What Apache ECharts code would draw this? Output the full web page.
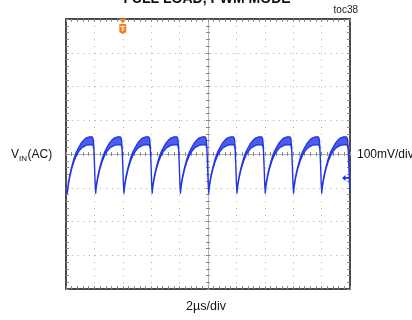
<!DOCTYPE html>
<html>
<head>
<meta charset="utf-8">
<script src="https://cdn.jsdelivr.net/npm/echarts@6/dist/echarts.min.js"></script>
<style>
  html, body { margin: 0; padding: 0; background: #fff; }
  #chart { width: 412px; height: 320px; }
</style>
</head>
<body>
<div id="chart"></div>
<script>
// Scope capture of the input ripple, AC coupled: 2 µs/div horizontally, 100 mV/div vertically.
// The trace is stored as its lower and upper envelope (the plateau of each tooth is fuzzy).

const timeRangeUs = [0, 20];
const voltRangeMv = [-400, 400];
const triggerTimeUs = 4;
const triggerLevelMv = -71;

const timeUs = [
  0.00,
  0.10, 0.15, 0.24, 0.38, 0.55, 0.72, 0.90, 1.08, 1.26, 1.44, 1.65, 1.84, 1.91, 1.96, 2.01, 2.05,
  2.09, 2.14, 2.23, 2.37, 2.54, 2.71, 2.89, 3.07, 3.25, 3.43, 3.64, 3.83, 3.90, 3.95, 4.00, 4.04,
  4.08, 4.13, 4.22, 4.36, 4.53, 4.70, 4.88, 5.06, 5.24, 5.42, 5.63, 5.82, 5.89, 5.94, 5.99, 6.03,
  6.07, 6.12, 6.21, 6.35, 6.52, 6.69, 6.87, 7.05, 7.23, 7.41, 7.62, 7.81, 7.88, 7.93, 7.98, 8.02,
  8.06, 8.11, 8.20, 8.34, 8.51, 8.68, 8.86, 9.04, 9.22, 9.40, 9.61, 9.80, 9.87, 9.92, 9.97, 10.01,
  10.05, 10.10, 10.19, 10.33, 10.50, 10.67, 10.85, 11.03, 11.21, 11.39, 11.60, 11.79, 11.86, 11.91, 11.96, 12.00,
  12.04, 12.09, 12.18, 12.32, 12.49, 12.66, 12.84, 13.02, 13.20, 13.38, 13.59, 13.78, 13.85, 13.90, 13.95, 13.99,
  14.03, 14.08, 14.17, 14.31, 14.48, 14.65, 14.83, 15.01, 15.19, 15.37, 15.58, 15.77, 15.84, 15.89, 15.94, 15.98,
  16.02, 16.07, 16.16, 16.30, 16.47, 16.64, 16.82, 17.00, 17.18, 17.36, 17.57, 17.76, 17.83, 17.88, 17.93, 17.97,
  18.01, 18.06, 18.15, 18.29, 18.46, 18.63, 18.81, 18.99, 19.17, 19.35, 19.56, 19.75, 19.82, 19.87, 19.92, 19.96,
  20.00
];

const lowMv = [
  -114,
  -116, -97, -74, -47, -23, -5, 8, 17, 22, 26, 27, 27, 25, 13, -38, -88,
  -116, -97, -74, -47, -23, -5, 8, 17, 22, 26, 27, 27, 25, 13, -38, -88,
  -116, -97, -74, -47, -23, -5, 8, 17, 22, 26, 27, 27, 25, 13, -38, -88,
  -116, -97, -74, -47, -23, -5, 8, 17, 22, 26, 27, 27, 25, 13, -38, -88,
  -116, -97, -74, -47, -23, -5, 8, 17, 22, 26, 27, 27, 25, 13, -38, -88,
  -116, -97, -74, -47, -23, -5, 8, 17, 22, 26, 27, 27, 25, 13, -38, -88,
  -116, -97, -74, -47, -23, -5, 8, 17, 22, 26, 27, 27, 25, 13, -38, -88,
  -116, -97, -74, -47, -23, -5, 8, 17, 22, 26, 27, 27, 25, 13, -38, -88,
  -116, -97, -74, -47, -23, -5, 8, 17, 22, 26, 27, 27, 25, 13, -38, -88,
  -116, -97, -74, -47, -23, -5, 8, 17, 22, 26, 27, 27, 25, 13, -38, -88,
  -116
];

const highMv = [
  -108,
  -110, -91, -68, -41, -15, 5, 20, 33, 42, 48, 51, 51, 45, 23, -32, -82,
  -110, -91, -68, -41, -15, 5, 20, 33, 42, 48, 51, 51, 45, 23, -32, -82,
  -110, -91, -68, -41, -15, 5, 20, 33, 42, 48, 51, 51, 45, 23, -32, -82,
  -110, -91, -68, -41, -15, 5, 20, 33, 42, 48, 51, 51, 45, 23, -32, -82,
  -110, -91, -68, -41, -15, 5, 20, 33, 42, 48, 51, 51, 45, 23, -32, -82,
  -110, -91, -68, -41, -15, 5, 20, 33, 42, 48, 51, 51, 45, 23, -32, -82,
  -110, -91, -68, -41, -15, 5, 20, 33, 42, 48, 51, 51, 45, 23, -32, -82,
  -110, -91, -68, -41, -15, 5, 20, 33, 42, 48, 51, 51, 45, 23, -32, -82,
  -110, -91, -68, -41, -15, 5, 20, 33, 42, 48, 51, 51, 45, 23, -32, -82,
  -110, -91, -68, -41, -15, 5, 20, 33, 42, 48, 51, 51, 45, 23, -32, -82,
  -110
];

const FONT = '"Liberation Sans", Arial, Helvetica, sans-serif';
const TRACE = '#1f35e6';
const TRIG = '#f5821f';
const FRAME = '#4a4a4a';
const DOT = '#a8a8a8';
const TICK = '#8a8a8a';

const chart = echarts.init(document.getElementById('chart'), null, { renderer: 'canvas' });

// helpers for the scope graticule axes
function xAxisCfg(extra) {
  return Object.assign({
    type: 'value', min: timeRangeUs[0], max: timeRangeUs[1], interval: 2,
    axisLabel: { show: false },
    splitLine: { show: false },
    axisTick: { show: true, inside: true, length: 3, lineStyle: { color: TICK, width: 1 } },
    minorTick: { show: true, splitNumber: 5, length: 3, lineStyle: { color: TICK, width: 1 } },
    axisLine: { show: true, onZero: false, lineStyle: { color: FRAME, width: 2 } }
  }, extra);
}
function yAxisCfg(extra) {
  return Object.assign({
    type: 'value', min: voltRangeMv[0], max: voltRangeMv[1], interval: 100,
    axisLabel: { show: false },
    splitLine: { show: false },
    axisTick: { show: true, inside: true, length: 3, lineStyle: { color: TICK, width: 1 } },
    minorTick: { show: true, splitNumber: 5, length: 3, lineStyle: { color: TICK, width: 1 } },
    axisLine: { show: true, onZero: false, lineStyle: { color: FRAME, width: 2 } }
  }, extra);
}
const centerLine = { show: true, onZero: false, lineStyle: { color: '#b4b4b4', width: 1 } };
const centerTick = (inside) => ({ show: true, inside: inside, length: 2, lineStyle: { color: TICK, width: 1 } });
const centerMinor = { show: true, splitNumber: 5, length: 2, lineStyle: { color: TICK, width: 1 } };

// the trace: lower envelope forward, upper envelope back, as one filled outline
function renderTrace(params, api) {
  if (params.dataIndex !== 0) return null;
  const n = timeUs.length;
  const pts = [];
  for (let i = 0; i < n; i++) pts.push(api.coord([timeUs[i], lowMv[i]]));
  for (let i = n - 1; i >= 0; i--) pts.push(api.coord([timeUs[i], highMv[i]]));
  return {
    type: 'polygon',
    shape: { points: pts },
    style: { fill: 'rgba(31,53,230,0.8)', stroke: TRACE, lineWidth: 1.3, lineJoin: 'round' }
  };
}

const option = {
  animation: false,
  backgroundColor: '#fff',
  grid: { left: 66, top: 19, width: 284, height: 270, outerBoundsMode: 'none', containLabel: false },
  xAxis: [
    xAxisCfg({ position: 'bottom',
      splitLine: { show: true, lineStyle: { color: DOT, width: 1, type: [1, 5.75] } } }),
    xAxisCfg({ position: 'top' }),
    xAxisCfg({ position: 'bottom', offset: -135, axisLine: centerLine,
      axisTick: centerTick(true), minorTick: centerMinor }),
    xAxisCfg({ position: 'bottom', offset: -135, axisLine: { show: false },
      axisTick: centerTick(false), minorTick: centerMinor })
  ],
  yAxis: [
    yAxisCfg({ position: 'left',
      splitLine: { show: true, lineStyle: { color: DOT, width: 1, type: [1, 4.75] } } }),
    yAxisCfg({ position: 'right' }),
    yAxisCfg({ position: 'left', offset: -142, axisLine: centerLine,
      axisTick: centerTick(true), minorTick: centerMinor }),
    yAxisCfg({ position: 'left', offset: -142, axisLine: { show: false },
      axisTick: centerTick(false), minorTick: centerMinor })
  ],
  series: [
    {
      name: 'trace',
      type: 'custom',
      xAxisIndex: 0, yAxisIndex: 0,
      renderItem: renderTrace,
      data: timeUs.map((t, i) => [t, lowMv[i], highMv[i]]),
      encode: { x: 0, y: [1, 2] },
      clip: true,
      silent: true,
      z: 5
    },
    {
      name: 'markers',
      type: 'scatter',
      xAxisIndex: 0, yAxisIndex: 0,
      symbolSize: 0,
      silent: true,
      data: [],
      z: 6,
      markPoint: {
        silent: true,
        animation: false,
        data: [
          {
            coord: [triggerTimeUs, voltRangeMv[1]],
            symbol: 'triangle', symbolRotate: 180, symbolSize: [8, 5], symbolOffset: [0, 2],
            itemStyle: { color: TRIG }, label: { show: false }
          },
          {
            coord: [triggerTimeUs, voltRangeMv[1]],
            symbol: 'path://M1,0 H7 Q8,0 8,1 V9 L4,11 L0,9 V1 Q0,0 1,0 Z',
            symbolSize: [7, 10], symbolOffset: [0, 10],
            itemStyle: { color: TRIG },
            label: { show: true, formatter: 'T', color: '#fff', fontSize: 8, fontWeight: 'bold',
              fontFamily: FONT, position: 'inside', offset: [0, -0.5] }
          },
          {
            coord: [timeRangeUs[1], triggerLevelMv],
            symbol: 'path://M0,5 L5,0 L5,3.6 L10,3.6 L10,6.4 L5,6.4 L5,10 Z',
            symbolSize: [7, 6], symbolOffset: [-4.5, 0],
            itemStyle: { color: TRACE }, label: { show: false }
          }
        ]
      }
    }
  ],
  graphic: [
    { type: 'text', x: 207, y: -1, silent: true,
      style: { text: 'FULL LOAD, PWM MODE', font: 'bold 14px ' + FONT, fill: '#111',
        align: 'center', verticalAlign: 'middle', textAlign: 'center', textVerticalAlign: 'middle' } },
    { type: 'text', x: 358, y: 10, silent: true,
      style: { text: 'toc38', font: '10px ' + FONT, fill: '#222',
        align: 'right', verticalAlign: 'middle', textAlign: 'right', textVerticalAlign: 'middle' } },
    { type: 'text', x: 11, y: 155, silent: true,
      style: { text: 'V', font: '12px ' + FONT, fill: '#111',
        align: 'left', verticalAlign: 'middle', textAlign: 'left', textVerticalAlign: 'middle' } },
    { type: 'text', x: 19, y: 159, silent: true,
      style: { text: 'IN', font: '8px ' + FONT, fill: '#111',
        align: 'left', verticalAlign: 'middle', textAlign: 'left', textVerticalAlign: 'middle' } },
    { type: 'text', x: 27.5, y: 155, silent: true,
      style: { text: '(AC)', font: '12px ' + FONT, fill: '#111',
        align: 'left', verticalAlign: 'middle', textAlign: 'left', textVerticalAlign: 'middle' } },
    { type: 'text', x: 357, y: 155, silent: true,
      style: { text: '100mV/div', font: '12px ' + FONT, fill: '#111',
        align: 'left', verticalAlign: 'middle', textAlign: 'left', textVerticalAlign: 'middle' } },
    { type: 'text', x: 206, y: 307, silent: true,
      style: { text: '2µs/div', font: '12.5px ' + FONT, fill: '#111',
        align: 'center', verticalAlign: 'middle', textAlign: 'center', textVerticalAlign: 'middle' } }
  ]
};

chart.setOption(option);
</script>
</body>
</html>
